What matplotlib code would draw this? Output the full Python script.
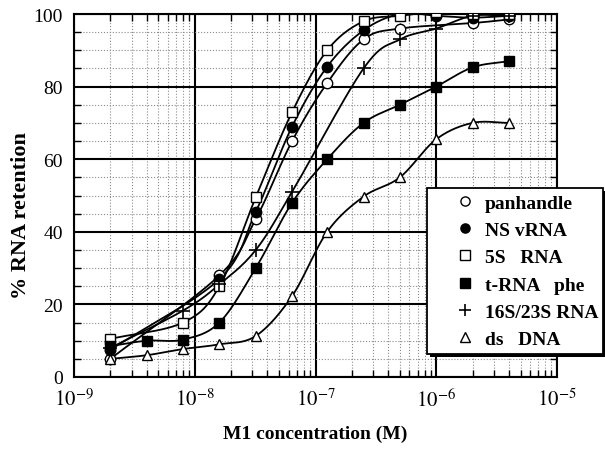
import numpy as np
import matplotlib
matplotlib.use('Agg')
import matplotlib.pyplot as plt
from matplotlib.patches import Rectangle
from matplotlib.ticker import LogLocator, MultipleLocator, NullFormatter

plt.rcParams['font.family'] = ['Liberation Serif', 'DejaVu Serif']
plt.rcParams['mathtext.fontset'] = 'stix'

# M1 concentration (M), dilution series
conc = [2e-9, 4e-9, 8e-9, 1.6e-8, 3.2e-8, 6.4e-8, 1.25e-7, 2.5e-7, 5e-7, 1e-6, 2e-6, 4e-6]

# % RNA retention, None = no point visible
panhandle = [5, None, None, 28, 43.5, 65, 81, 93, 96, None, 97.5, 98.5]
ns_vrna = [7.5, None, None, 27, 45.5, 69, 85.5, 95.5, 100, 99.5, 99, 99.5]
rna_5s = [10.5, None, 15, 25, 49.5, 73, 90, 98, 99.5, 100.5, 100, 100]
trna_phe = [8.5, 10, 10.3, 15, 30, 48, 60, 70, 75, 80, 85.3, 87]
rna_16s23s = [8, None, 18.3, 25.5, 35, 51, None, 85, 93, 96, 99.5, 99.5]
ds_dna = [5, 6, 7.7, 9, 11.3, 22.3, 40, 49.7, 55, 65.5, 70, 70]

labels = ['panhandle', 'NS vRNA', '5S   RNA', 't-RNA   phe', '16S/23S RNA', 'ds   DNA']


def smooth(x, y, n=25):
    # catmull-rom through the points, in log10(x)
    pts = [(np.log10(a), b) for a, b in zip(x, y) if b is not None]
    lx = np.array([p[0] for p in pts])
    ly = np.array([p[1] for p in pts])
    px = np.concatenate([[2 * lx[0] - lx[1]], lx, [2 * lx[-1] - lx[-2]]])
    py = np.concatenate([[2 * ly[0] - ly[1]], ly, [2 * ly[-1] - ly[-2]]])
    xs, ys = [], []
    t = np.linspace(0, 1, n)
    for i in range(1, len(px) - 2):
        for arr, out in ((px, xs), (py, ys)):
            p0, p1, p2, p3 = arr[i - 1], arr[i], arr[i + 1], arr[i + 2]
            out.extend(0.5 * ((2 * p1) + (-p0 + p2) * t + (2 * p0 - 5 * p1 + 4 * p2 - p3) * t ** 2
                              + (-p0 + 3 * p1 - 3 * p2 + p3) * t ** 3))
    return 10 ** np.array(xs), np.array(ys)


W, H = 605, 452
fig = plt.figure(figsize=(W / 100, H / 100), dpi=100)
ax = fig.add_axes([74 / W, 1 - 378 / H, 483 / W, 363 / H])

series = [
    (panhandle, dict(marker='o', mfc='white', mec='black')),
    (ns_vrna, dict(marker='o', mfc='black', mec='black')),
    (rna_5s, dict(marker='s', mfc='white', mec='black')),
    (trna_phe, dict(marker='s', mfc='black', mec='black')),
    (rna_16s23s, dict(marker='+', mfc='black', mec='black', mew=1.2)),
    (ds_dna, dict(marker='^', mfc='white', mec='black')),
]

handles = []
for (vals, style), lab in zip(series, labels):
    sx, sy = smooth(conc, vals)
    ax.plot(sx, sy, color='black', lw=1.3, zorder=3)
    yv = [np.nan if v is None else v for v in vals]
    ms = 10 if style['marker'] == '+' else 7.5
    h, = ax.plot(conc, yv, ls='none', ms=ms, zorder=4, label=lab, **style)
    handles.append(h)

ax.set_xscale('log')
ax.set_xlim(1e-9, 1e-5)
ax.set_ylim(0, 100)

ax.xaxis.set_major_locator(LogLocator(base=10, numticks=10))
ax.xaxis.set_minor_locator(LogLocator(base=10, subs=np.arange(2, 10), numticks=20))
ax.xaxis.set_minor_formatter(NullFormatter())
ax.yaxis.set_major_locator(MultipleLocator(20))
ax.yaxis.set_minor_locator(MultipleLocator(5))

ax.grid(which='major', color='black', lw=1.5, zorder=1)
ax.grid(which='minor', color='0.55', lw=0.8, ls=':', zorder=0)

ax.tick_params(which='both', direction='in', top=True, right=True, labelsize=14, pad=8)
ax.tick_params(which='major', length=0)
ax.tick_params(which='minor', length=5, width=1)
ax.set_xticks([1e-9, 1e-8, 1e-7, 1e-6, 1e-5])
ax.set_xticklabels([r'$10^{-9}$', r'$10^{-8}$', r'$10^{-7}$', r'$10^{-6}$', r'$10^{-5}$'], fontsize=15)
for s in ax.spines.values():
    s.set_linewidth(1.5)

ax.set_xlabel('M1 concentration (M)', fontsize=14, fontweight='bold', labelpad=10)
ax.set_ylabel('% RNA retention', fontsize=16, fontweight='bold')
ax.yaxis.set_label_coords((31 - 74) / 483, (378 - 216) / 363)

# legend box with black drop shadow
bx, by, bw, bh = 427, 189, 176, 166
fig.patches.append(Rectangle(((bx + 3) / W, 1 - (by + bh + 3) / H), bw / W, bh / H,
                             transform=fig.transFigure, fc='black', ec='none', zorder=1))
fig.patches.append(Rectangle((bx / W, 1 - (by + bh) / H), bw / W, bh / H,
                             transform=fig.transFigure, fc='white', ec='black', lw=1.3, zorder=2))

fig.legend(handles=handles, loc='upper left', bbox_to_anchor=(455 / W, 1 - 195 / H),
           frameon=False, prop=dict(weight='bold', size=14), handlelength=1.0,
           handletextpad=0.53, labelspacing=0.5, borderpad=0, borderaxespad=0,
           markerscale=0.88)

fig.savefig('out.png', dpi=100)
